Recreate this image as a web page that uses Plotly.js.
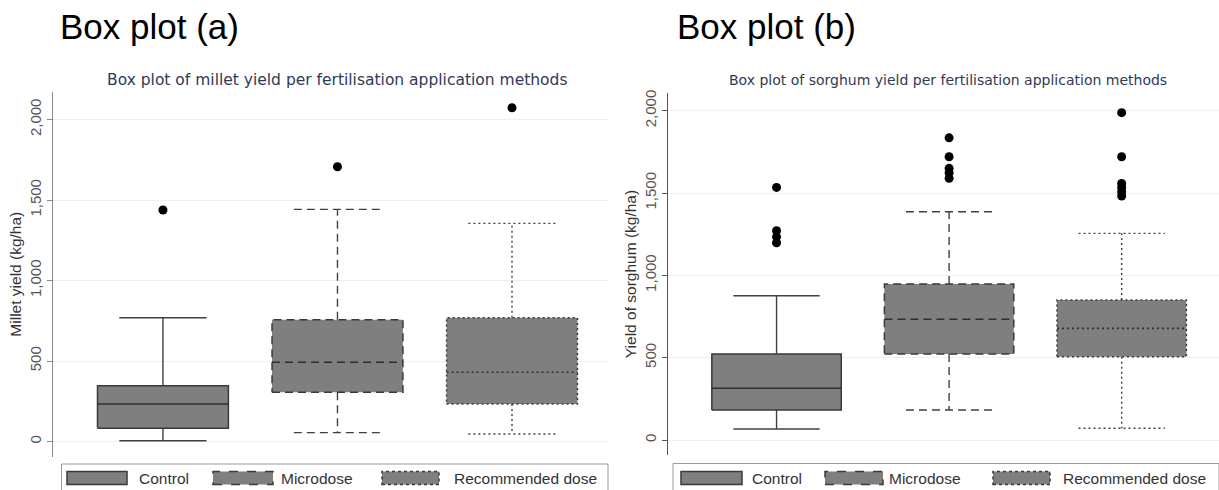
<!DOCTYPE html>
<html>
<head>
<meta charset="utf-8">
<script src="https://cdn.plot.ly/plotly-3.0.1.min.js"></script>
<style>html,body{margin:0;padding:0;background:#fff;}#chart{width:1219px;height:490px;}</style>
</head>
<body>
<div id="chart"></div>
<script>
// ---------- data ----------
const categories = ['Control', 'Microdose', 'Recommended dose'];
const yTicks = [0, 500, 1000, 1500, 2000];

// Millet yield (kg/ha) - panel (a)
const milletLower  = [5, 55, 47];
const milletQ1     = [82, 306, 233];
const milletMedian = [233, 492, 430];
const milletQ3     = [347, 757, 769];
const milletUpper  = [769, 1442, 1355];
const milletOutliers = [[1438], [1707], [2073]];

// Sorghum yield (kg/ha) - panel (b)
const sorghumLower  = [67, 182, 71];
const sorghumQ1     = [182, 522, 506];
const sorghumMedian = [314, 733, 678];
const sorghumQ3     = [522, 947, 850];
const sorghumUpper  = [876, 1386, 1255];
const sorghumOutliers = [[1534, 1271, 1234, 1198], [1835, 1720, 1650, 1623, 1589], [1988, 1720, 1558, 1534, 1508, 1482]];

// ---------- styling ----------
const W = 1219, H = 490;
const boxFill = '#7f7f7f';
const edge = '#3a3a3a';
const dashes = ['solid', '8px,5px', '2px,3px'];
const boxW = 0.75, capW = 0.5;
const sans = 'Liberation Sans, Arial, sans-serif';

function panelTraces(lower, q1, med, q3, upper, outl, xa, ya) {
  const tr = [];
  categories.forEach((c, i) => {
    const l = i - boxW / 2, r = i + boxW / 2;
    // whiskers + caps
    tr.push({
      type: 'scatter', mode: 'lines', xaxis: xa, yaxis: ya, showlegend: false, hoverinfo: 'skip',
      x: [i, i, null, i - capW / 2, i + capW / 2, null, i, i, null, i - capW / 2, i + capW / 2],
      y: [q3[i], upper[i], null, upper[i], upper[i], null, q1[i], lower[i], null, lower[i], lower[i]],
      line: {color: '#404040', width: 1.4, dash: dashes[i]}
    });
    // box
    tr.push({
      type: 'scatter', mode: 'lines', xaxis: xa, yaxis: ya, showlegend: false, name: c,
      x: [l, r, r, l, l], y: [q1[i], q1[i], q3[i], q3[i], q1[i]],
      fill: 'toself', fillcolor: boxFill,
      line: {color: edge, width: 1.5, dash: dashes[i]}
    });
    // median
    tr.push({
      type: 'scatter', mode: 'lines', xaxis: xa, yaxis: ya, showlegend: false, hoverinfo: 'skip',
      x: [l, r], y: [med[i], med[i]],
      line: {color: '#2e2e2e', width: 1.6, dash: dashes[i]}
    });
    // outliers
    tr.push({
      type: 'scatter', mode: 'markers', xaxis: xa, yaxis: ya, showlegend: false, name: c,
      x: outl[i].map(() => i), y: outl[i],
      marker: {color: '#000', size: 9}
    });
  });
  return tr;
}

const data = [].concat(
  panelTraces(milletLower, milletQ1, milletMedian, milletQ3, milletUpper, milletOutliers, 'x', 'y'),
  panelTraces(sorghumLower, sorghumQ1, sorghumMedian, sorghumQ3, sorghumUpper, sorghumOutliers, 'x2', 'y2')
);

const px = v => v / W;
const py = v => 1 - v / H;

function yAxis(domain, range, anchor, title, lineColor) {
  return {
    domain: domain, range: range, anchor: anchor, automargin: false,
    tickvals: yTicks, tickformat: ',', tickangle: -90,
    ticks: 'outside', ticklen: 5, tickcolor: lineColor, tickwidth: 1,
    showline: true, linecolor: lineColor, linewidth: 1,
    showgrid: true, gridcolor: '#efefef', gridwidth: 1, zeroline: false,
    tickfont: {family: sans, size: 15, color: '#555'},
    title: {text: title, font: {family: sans, size: 15.5, color: '#333'}, standoff: 1}
  };
}
function xAxis(domain, range, anchor) {
  return {domain: domain, range: range, anchor: anchor, visible: false, fixedrange: true};
}

// legend (drawn as decoration)
const shapes = [];
const annotations = [];
function legendBlock(x0, x1, top, items) {
  shapes.push({type: 'rect', xref: 'paper', yref: 'paper', x0: px(x0), x1: px(x1), y0: py(500), y1: py(top),
    line: {color: '#9a9a9a', width: 1}, fillcolor: 'rgba(0,0,0,0)'});
  items.forEach((it, i) => {
    shapes.push({type: 'rect', xref: 'paper', yref: 'paper', x0: px(it.s0), x1: px(it.s1), y0: py(484.5), y1: py(471.5),
      fillcolor: boxFill, line: {color: edge, width: 1.5, dash: i === 0 ? 'solid' : (i === 1 ? 'dash' : 'dot')}});
    annotations.push({xref: 'paper', yref: 'paper', x: px(it.t), y: py(478.5), xanchor: 'left', yanchor: 'middle',
      text: categories[i], showarrow: false, font: {family: sans, size: 15.5, color: '#333'}});
  });
}
legendBlock(61.5, 608, 464, [{s0: 67, s1: 127, t: 137}, {s0: 213, s1: 273, t: 279}, {s0: 382, s1: 439, t: 452}]);
legendBlock(673, 1219, 463.5, [{s0: 681, s1: 742, t: 750}, {s0: 825, s1: 883, t: 887}, {s0: 993, s1: 1050, t: 1061}]);

// titles
annotations.push({xref: 'paper', yref: 'paper', x: px(58), y: py(27), xanchor: 'left', yanchor: 'middle', showarrow: false,
  text: 'Box plot (a)', font: {family: sans, size: 35, color: '#000'}});
annotations.push({xref: 'paper', yref: 'paper', x: px(675), y: py(27), xanchor: 'left', yanchor: 'middle', showarrow: false,
  text: 'Box plot (b)', font: {family: sans, size: 35, color: '#000'}});
annotations.push({xref: 'paper', yref: 'paper', x: px(337), y: py(80), xanchor: 'center', yanchor: 'middle', showarrow: false,
  text: 'Box plot of millet yield per fertilisation application methods', font: {family: 'DejaVu Sans', size: 15.5, color: '#303a55'}});
annotations.push({xref: 'paper', yref: 'paper', x: px(948), y: py(80), xanchor: 'center', yanchor: 'middle', showarrow: false,
  text: 'Box plot of sorghum yield per fertilisation application methods', font: {family: 'DejaVu Sans', size: 14, color: '#303a55'}});

const layout = {
  width: W, height: H, autosize: false,
  margin: {l: 0, r: 0, t: 0, b: 0, pad: 0},
  paper_bgcolor: '#fff', plot_bgcolor: '#fff',
  showlegend: false,
  xaxis: xAxis([53 / W, 608 / W], [-0.63, 2.55], 'y'),
  yaxis: yAxis([1 - 456.7 / H, 1 - 91.7 / H], [-94.4, 2173], 'x', 'Millet yield (kg/ha)', '#888'),
  xaxis2: xAxis([668 / W, 1], [-0.629, 2.564], 'y2'),
  yaxis2: yAxis([1 - 455 / H, 1 - 93 / H], [-91.1, 2107.5], 'x2', 'Yield of sorghum (kg/ha)', '#555'),
  shapes: shapes,
  annotations: annotations
};

Plotly.newPlot('chart', data, layout, {displayModeBar: false, staticPlot: true});
</script>
</body>
</html>
